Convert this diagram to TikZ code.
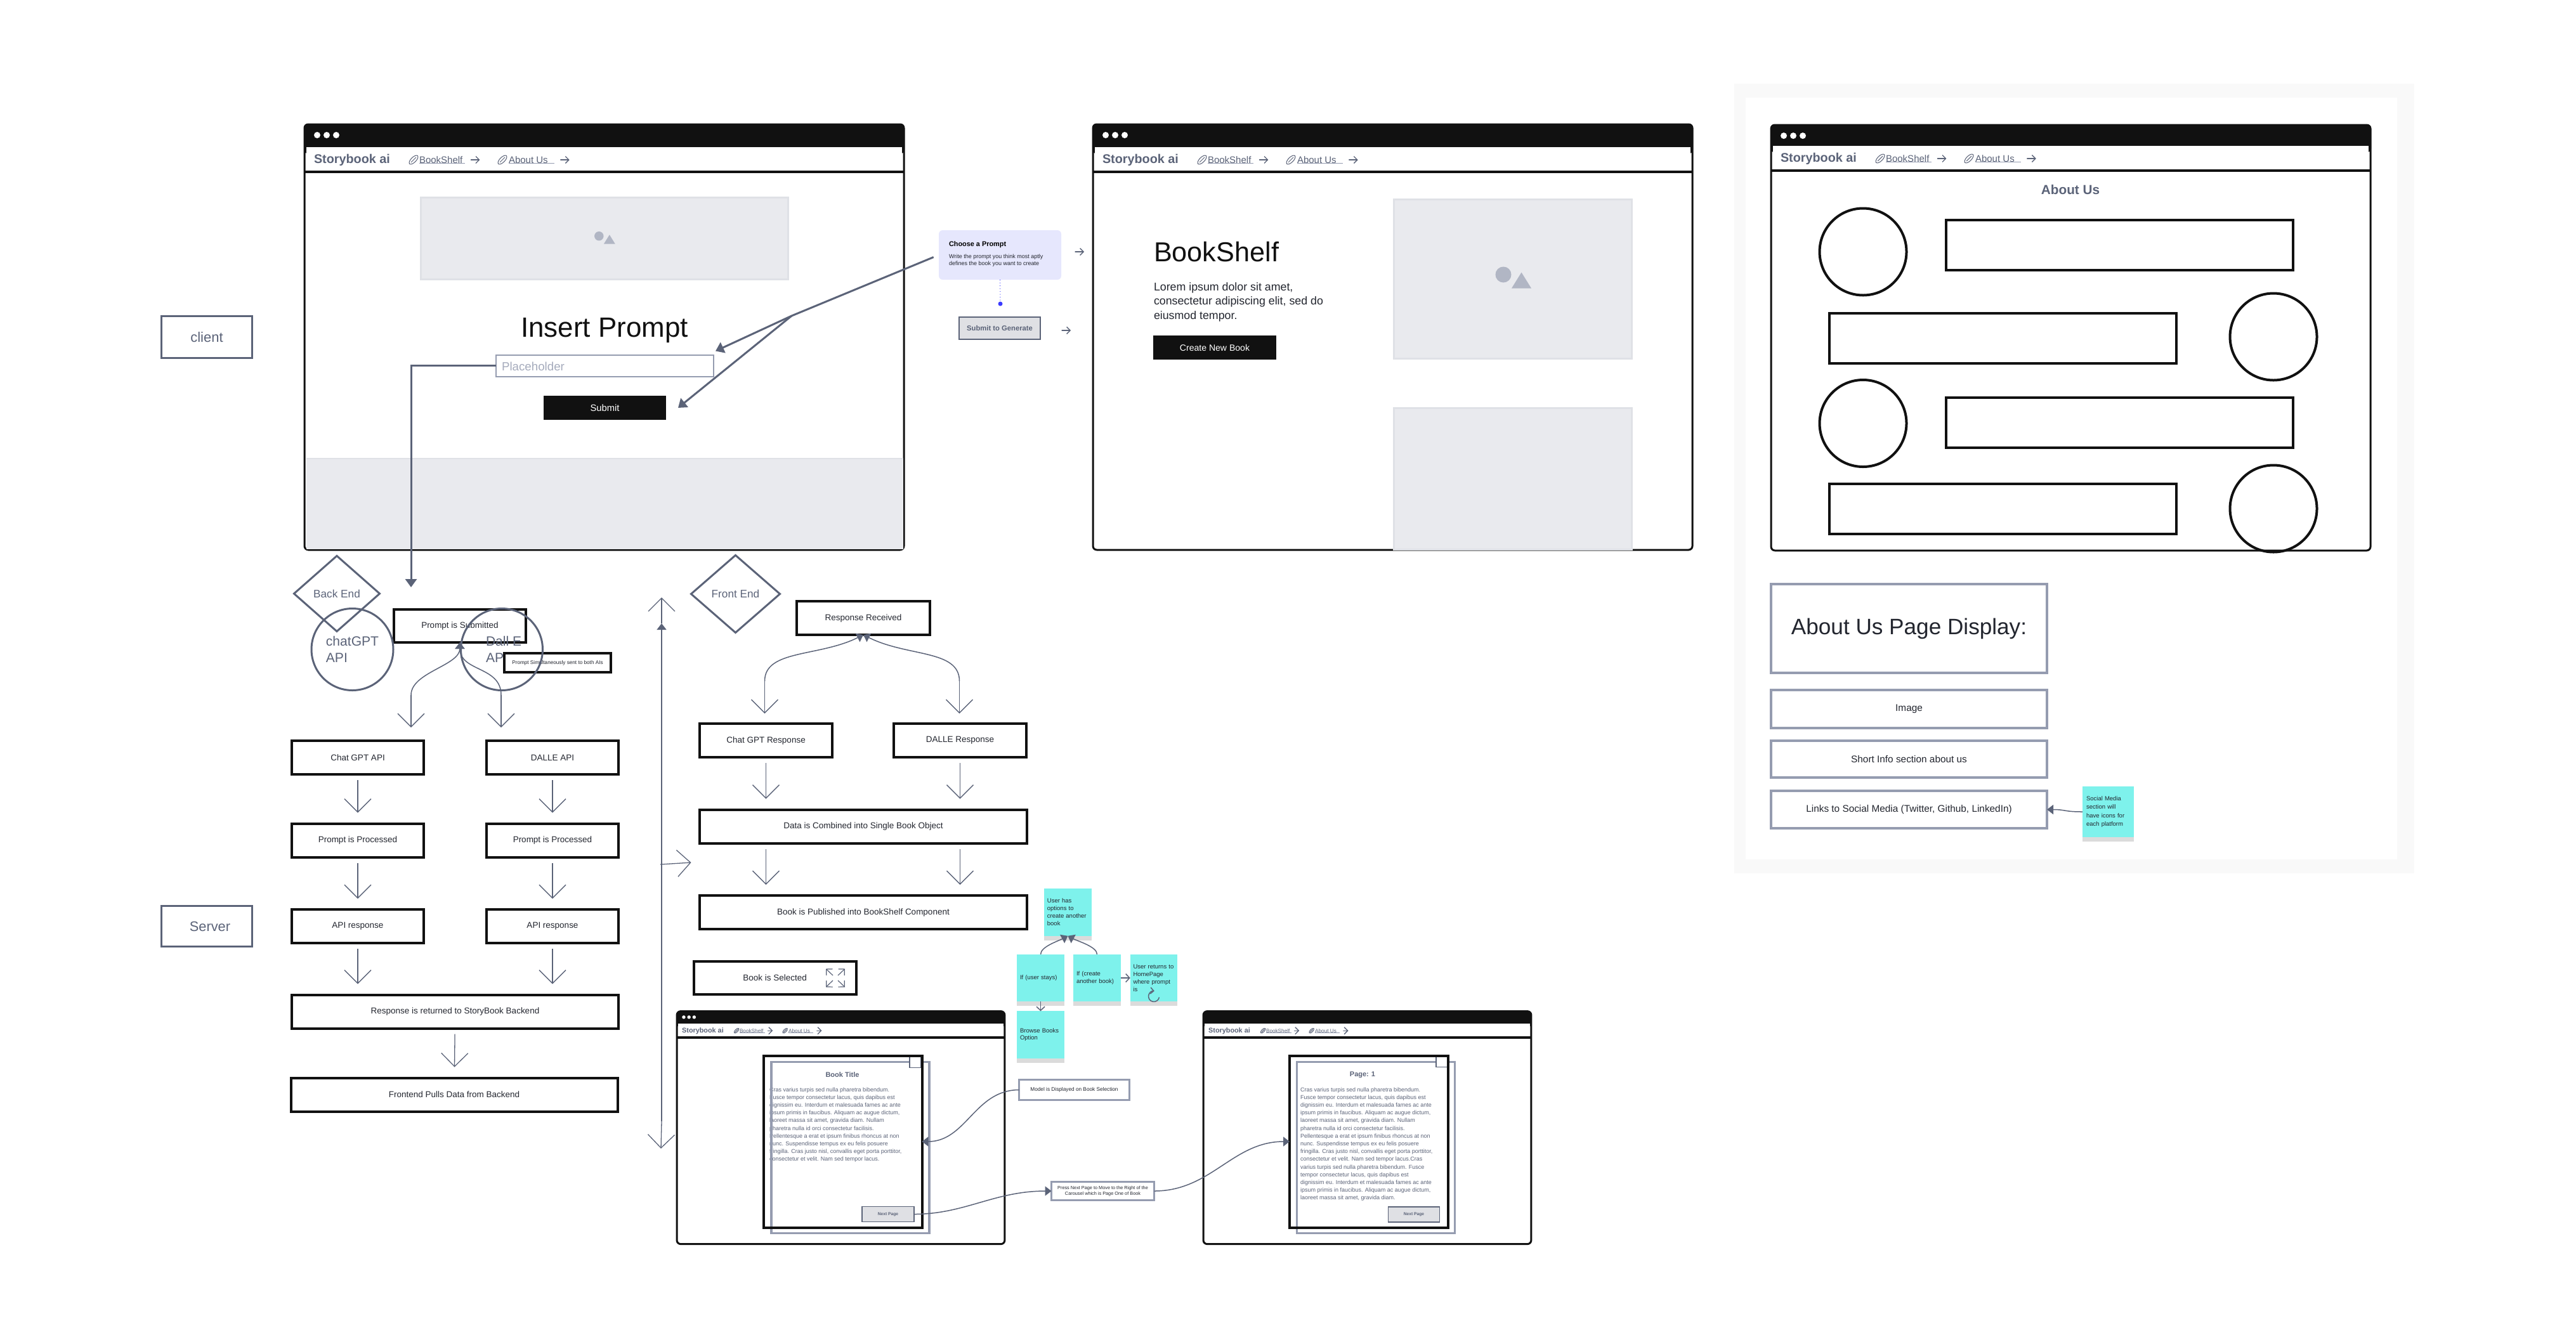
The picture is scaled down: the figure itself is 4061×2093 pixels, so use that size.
\documentclass[tikz,border=0pt]{standalone}
\usepackage{fontspec}
\setmainfont{Liberation Sans}
\usetikzlibrary{positioning}
\usetikzlibrary{arrows.meta, calc, shapes.geometric}
\usetikzlibrary{shadows}
\definecolor{slate}{HTML}{5B6378}
\definecolor{winblack}{HTML}{111111}
\definecolor{softblue}{HTML}{959CB0}
\definecolor{phfill}{HTML}{E9EAEE}
\definecolor{phline}{HTML}{DFE1E6}
\definecolor{iconfill}{HTML}{B1B6C4}
\definecolor{stickycyan}{HTML}{7EF2EC}
\definecolor{promptblue}{HTML}{E6E7FD}
\definecolor{dotblue}{HTML}{3B3BFF}
\definecolor{btngray}{HTML}{DFE0E4}
\definecolor{inktext}{HTML}{23262F}
\definecolor{framegray}{HTML}{F9F9F9}

\newcommand{\pxfont}[2]{\fontsize{#1}{#2}\selectfont}

% name, x, y, scale, title bar height
\newcommand{\browserwin}[5]{%
  \begin{scope}[shift={(#2,#3)},scale=#4,transform shape]
    \node (#1frame) [winframe] at (472.5,336.5) {};
    \node (#1bar) [winbar, minimum height=#5*0.1mm+1mm, anchor=north] at (472.5,0) {};
    \node (#1nav) [winnav, anchor=north] at (472.5,#5) {};
    \draw[winrule] (#1frame.west |- #1nav.south) -- (#1frame.east |- #1nav.south);
    \node (#1brand) [brandtext, anchor=west] at (15,#5+20) {Storybook ai};
    \draw[navline, rotate around={45:(172,#5+20)}] (172,#5+20) ellipse [x radius=9,y radius=4];
    \draw[navline] (168,#5+24) -- (176,#5+16);
    \node (#1shelf) [navtext, anchor=west] at (181,#5+20) {BookShelf};
    \draw[navrule] (#1shelf.south west) -- ([xshift=0.4mm]#1shelf.south east);
    \draw[glypharrow] ([xshift=1.3mm]#1shelf.east) -- ([xshift=2.7mm]#1shelf.east);
    \draw[navline, rotate around={45:(312,#5+20)}] (312,#5+20) ellipse [x radius=9,y radius=4];
    \draw[navline] (308,#5+24) -- (316,#5+16);
    \node (#1about) [navtext, anchor=west] at (322,#5+20) {About Us};
    \draw[navrule] (#1about.south west) -- ([xshift=1mm]#1about.south east);
    \draw[glypharrow] ([xshift=2mm]#1about.east) -- ([xshift=3.4mm]#1about.east);
  \end{scope}
}
\newcommand{\browserdots}[3]{%
  \begin{scope}[shift={(#1,#2)},scale=#3]
    \foreach \dotx in {20,35,50}
      \fill[white] (\dotx,18) circle [radius=5];
  \end{scope}
}
\newcommand{\shapeicon}[2]{%
  \begin{scope}[shift={(#1.center)},scale=#2]
    \fill[iconfill] (-15,-6.5) circle [radius=12.5];
    \fill[iconfill] (-2,15) -- (29,15) -- (13.5,-10) -- cycle;
  \end{scope}
}

\begin{document}
\begin{tikzpicture}
  [
    x=0.1mm, y=-0.1mm,
    every node/.style={inner sep=0pt, outer sep=0pt, font=\pxfont{3.84}{4.6}},
    align=center
  ]
    \tikzset{
        winframe/.style = {rectangle, rounded corners=0.6mm, draw=winblack, line width=0.3mm, fill=white,
                           minimum width=94.5mm, minimum height=67.1mm},
        winbar/.style = {rectangle, rounded corners=0.6mm, fill=winblack, minimum width=94.7mm},
        winnav/.style = {rectangle, fill=white, minimum width=93.9mm, minimum height=3.9mm},
        winrule/.style = {draw=winblack, line width=0.4mm},
        brandtext/.style = {font=\pxfont{5.63}{6.5}\bfseries, text=slate},
        navtext/.style = {font=\pxfont{4.27}{5}, text=slate},
        navline/.style = {draw=slate, line width=0.1mm},
        navrule/.style = {draw=softblue, line width=0.12mm},
        glypharrow/.style = {draw=slate, line width=0.13mm, line cap=round, -{Straight Barb[length=0.55mm,width=1.1mm]}},
        phbox/.style = {rectangle, fill=phfill, draw=phline, line width=0.3mm},
        flowbox/.style = {rectangle, draw=winblack, line width=0.4mm, minimum width=20.8mm, minimum height=5.3mm, text=inktext},
        grayborder/.style = {rectangle, draw=softblue, line width=0.35mm, fill=white, text=inktext},
        sidebox/.style = {rectangle, draw=slate, line width=0.35mm, text=slate, minimum width=14.3mm},
        diamondbox/.style = {diamond, draw=slate, line width=0.3mm, text=slate, font=\pxfont{4.9}{5.8}},
        apicircle/.style = {circle, draw=slate, line width=0.3mm, minimum size=12.9mm, text=slate, font=\pxfont{6}{7.5}},
        sticky/.style = {rectangle, fill=stickycyan, minimum width=7.45mm, minimum height=7.45mm,
                         text width=6.5mm, align=left, text=inktext, font=\pxfont{2.7}{3.4},
                         drop shadow={shadow xshift=0mm, shadow yshift=-0.7mm, opacity=0.14, fill=black}},
        blackbtn/.style = {rectangle, fill=winblack, text=white},
        graybtn/.style = {rectangle, fill=btngray, draw=slate, line width=0.18mm, text=slate},
        heavyline/.style = {draw=slate, line width=0.3mm},
        heavyarrow/.style = {heavyline, -{Triangle[length=1.3mm,width=1.8mm]}},
        openarrow/.style = {draw=slate, line width=0.13mm, -{Straight Barb[length=2.1mm,width=4.2mm]},
                            shorten <=0.9mm, shorten >=1.7mm},
        freearrow/.style = {draw=slate, line width=0.13mm, -{Straight Barb[length=2.1mm,width=4.2mm]}},
        curvearrow/.style = {draw=slate, line width=0.15mm, -{Triangle[length=1mm,width=1.5mm]}},
        bookpage/.style = {rectangle, draw=winblack, line width=0.4mm, minimum width=25mm, minimum height=27.1mm},
        bookback/.style = {rectangle, draw=softblue, line width=0.35mm, minimum width=24.9mm, minimum height=27mm},
        bookbody/.style = {anchor=north west, align=left, text=slate, font=\pxfont{2.56}{3.47}},
        booktitle/.style = {text=slate, font=\pxfont{3.13}{3.7}\bfseries},
        personbar/.style = {rectangle, draw=winblack, line width=0.4mm, minimum width=54.7mm, minimum height=7.9mm},
        personface/.style = {circle, draw=winblack, line width=0.4mm, minimum size=13.7mm},
    }
    \useasboundingbox (0,0) rectangle (4061,2093);

    \node (clientbox) [sidebox, minimum height=6.6mm, font=\pxfont{6.26}{7}] at (326,531.5) {client};
    \node (serverbox) [sidebox, minimum height=6.4mm, font=\pxfont{6.2}{7}] at (326,1460.5) {\hspace*{1mm}Server};

    % prompt page
    \browserwin{home}{480}{195}{1}{37}
    \browserdots{480}{195}{1}
    \fill[phfill] (483,723) rectangle (1424,866);
    \draw[phline, line width=0.2mm] (483,723) -- (1424,723);
    \node (homeimg) [phbox, minimum width=57.9mm, minimum height=12.9mm] at (953,376) {};
    \shapeicon{homeimg}{0.58}
    \node (inserttitle) [text=winblack, font=\pxfont{12.5}{14}] at (953,521) {Insert Prompt};
    \node (promptbox) [rectangle, draw=softblue, line width=0.2mm, fill=white, minimum width=34.3mm, minimum height=3.4mm] at (953.5,576.5) {};
    \node (promptph) [anchor=west, text=softblue!85, font=\pxfont{5.33}{6}] at (791,578) {Placeholder};
    \node (submitbtn) [blackbtn, minimum width=19.3mm, minimum height=3.8mm, font=\pxfont{4.2}{5}] at (953.5,643) {Submit};

    % bookshelf page
    \browserwin{shelf}{1723}{195}{1}{37}
    \browserdots{1723}{195}{1}
    \node (shelfimg) [phbox, minimum width=37.5mm, minimum height=25.1mm] at (2385,439.5) {};
    \shapeicon{shelfimg}{1}
    \node (shelfimgb) [phbox, minimum width=37.5mm, minimum height=22.3mm] at (2385,754.5) {};
    \node (shelftitle) [anchor=west, text=winblack, font=\pxfont{12.3}{14}] at (1819,397) {BookShelf};
    \node (shelftext) [anchor=north west, align=left, text=inktext, font=\pxfont{5.06}{6.4}] at (1819,445.5)
      {Lorem ipsum dolor sit amet,\\consectetur adipiscing elit, sed do\\eiusmod tempor.};
    \node (newbook) [blackbtn, minimum width=19.4mm, minimum height=3.8mm, font=\pxfont{4}{5}] at (1915,548) {Create New Book};

    % tooltip beside the two pages
    \node (choose) [rectangle, rounded corners=0.6mm, fill=promptblue, minimum width=19.3mm, minimum height=7.8mm] at (1576.5,402) {};
    \node (choosehead) [anchor=west, text=black, font=\pxfont{3.1}{3.7}\bfseries] at (1496,386) {Choose a Prompt};
    \node (choosetext) [anchor=north west, align=left, text=inktext, font=\pxfont{2.56}{3.13}] at (1496,400.5)
      {Write the prompt you think most aptly\\defines the book you want to create};
    \node (choosedot) [circle, fill=dotblue, minimum size=0.7mm] at (1577,479) {};
    \node (submitgen) [graybtn, minimum width=12.8mm, minimum height=3.5mm, font=\pxfont{3.2}{3.8}\bfseries] at (1576,517.5) {Submit to Generate};
    \draw[dotblue, densely dotted, line width=0.1mm] (choose.south) -- (choosedot);
    \draw[glypharrow] ([shift={(2.2mm,0.5mm)}]choose.east) -- ([shift={(3.6mm,0.5mm)}]choose.east);
    \draw[glypharrow] ([shift={(3.4mm,-0.35mm)}]submitgen.east) -- ([shift={(4.8mm,-0.35mm)}]submitgen.east);

    \coordinate (promptsplit) at (1248,498);
    \coordinate (promptdrop) at (648,926);
    \draw[heavyline, shorten <=0.9mm] (choose.west) -- (promptsplit);
    \draw[heavyarrow] (promptsplit) -- ([shift={(0.3mm,0.6mm)}]promptbox.north east);
    \draw[heavyarrow] (promptsplit) -- ([xshift=1.9mm]submitbtn.east);
    \draw[heavyarrow] (promptbox.west) -- (promptdrop |- promptbox.west) -- (promptdrop);

    % back end
    \node (backend) [diamondbox, minimum width=13.5mm, minimum height=11.9mm] at (531,936) {Back End};
    \node (submitted) [flowbox, minimum width=20.8mm, minimum height=5.2mm] at (725,987) {Prompt is Submitted};
    \node (chatgpt) [apicircle, align=left] at (555.5,1024) {chatGPT\\API};
    \node (dalletext) [anchor=west, align=left, text=slate, font=\pxfont{6}{7.5}] at (766,1024) {Dall E\\API};
    \node (bothais) [flowbox, fill=white, minimum width=16.8mm, minimum height=3.0mm, font=\pxfont{2.33}{3}] at (879,1045) {Prompt Simultaneously sent to both AIs};
    \node (dalleapic) [apicircle] at (791,1024) {};

    \node (chatapi) [flowbox] at (564,1194.5) {Chat GPT API};
    \node (dalleapi) [flowbox, right=9.9mm of chatapi] {DALLE API};
    \node (chatproc) [flowbox, below=7.75mm of chatapi] {Prompt is Processed};
    \node (dalleproc) [flowbox, below=7.75mm of dalleapi] {Prompt is Processed};
    \node (chatans) [flowbox, below=8.25mm of chatproc] {API response};
    \node (dalleans) [flowbox, below=8.25mm of dalleproc] {API response};
    \node (backans) [flowbox, minimum width=51.5mm] at (717.5,1595) {Response is returned to StoryBook Backend};
    \node (frontpull) [flowbox, minimum width=51.5mm] at (716,1726) {Frontend Pulls Data from Backend};

    \coordinate (chatin) at (648,1096);
    \coordinate (dallein) at (790,1096);
    \draw[curvearrow] (chatin) .. controls +(0,-36) and +(0,36.5) .. (submitted.south);
    \draw[curvearrow] (dallein) .. controls +(0,-46) and +(0,46.5) .. (submitted.south);
    \draw[freearrow, shorten >=2.1mm] (chatin) -- (chatin |- chatapi.north);
    \draw[freearrow, shorten >=2.1mm] (dallein) -- (dallein |- dalleapi.north);
    \foreach \fromnode/\tonode in {chatapi/chatproc, dalleapi/dalleproc, chatproc/chatans, dalleproc/dalleans}
      \draw[openarrow] (\fromnode) -- (\tonode);
    \draw[openarrow] (chatans.south) -- (chatans.south |- backans.north);
    \draw[openarrow] (dalleans.south) -- (dalleans.south |- backans.north);
    \draw[openarrow] (backans) -- (frontpull);

    % long line between the two columns
    \coordinate (railtop) at (1043,983);
    \coordinate (railtopend) at (1043,942);
    \coordinate (railbottom) at (1043,1768);
    \coordinate (railbottomend) at (1042,1811);
    \coordinate (railbranch) at (1041,1363);
    \coordinate (railbranchend) at (1089.5,1360);
    \draw[curvearrow] (railbottom) -- (railtop);
    \draw[freearrow] (railtop) -- (railtopend);
    \draw[freearrow] (railbottom) -- (railbottomend);
    \draw[freearrow] (railbranch) -- (railbranchend);

    % front end
    \node (frontend) [diamondbox, minimum width=14mm, minimum height=12.2mm] at (1159.5,936.5) {Front End};
    \node (received) [flowbox, minimum width=21mm] at (1361,974.5) {Response Received};
    \node (chatresp) [flowbox, minimum width=20.9mm] at (1207.5,1167.5) {Chat GPT Response};
    \node (dalleresp) [flowbox, minimum width=20.9mm, right=9.7mm of chatresp] {DALLE Response};
    \node (combined) [flowbox, minimum width=51.6mm] at (1361,1303) {Data is Combined into Single Book Object};
    \node (published) [flowbox, minimum width=51.6mm] at (1361,1438.5) {Book is Published into BookShelf Component};
    \node (selected) [flowbox, minimum width=25.6mm, minimum height=5.2mm] at (1221.7,1542) {Book is Selected};

    \coordinate (chatrespin) at (1205.5,1074);
    \coordinate (dallerespin) at (1512.5,1074);
    \draw[curvearrow] (chatrespin) .. controls +(0,-50) and +(-70,35) .. (received.south);
    \draw[curvearrow] (dallerespin) .. controls +(0,-50) and +(70,35) .. (received.south);
    \draw[freearrow, shorten >=1.6mm] (chatrespin) -- (chatrespin |- chatresp.north);
    \draw[freearrow, shorten >=1.6mm] (dallerespin) -- (dallerespin |- dalleresp.north);
    \foreach \respnode in {chatresp, dalleresp} {
      \draw[openarrow] (\respnode.south) -- (\respnode.south |- combined.north);
      \draw[openarrow] (\respnode.south |- combined.south) -- (\respnode.south |- published.north);
    }
    \coordinate (expandicon) at (1317,1542);
    \foreach \signx/\signy in {-1/-1, 1/-1, -1/1, 1/1}
      \draw[draw=slate, line width=0.12mm, -{Straight Barb[length=0.7mm,width=1.4mm]}]
        ($(expandicon)+(\signx*4,\signy*4)$) -- ($(expandicon)+(\signx*15,\signy*14.5)$);

    % sticky notes
    \node (optionsnote) [sticky] at (1683.4,1438.5) {User has\\options to\\create another\\book};
    \node (staysnote) [sticky] at (1640.5,1542) {If (user stays)};
    \node (createnote) [sticky] at (1729.5,1542) {If (create\\another book)};
    \node (returnnote) [sticky] at (1819,1542) {User returns to\\HomePage\\where prompt\\is};
    \node (browsenote) [sticky] at (1640.5,1631.5) {Browse Books\\Option};
    \draw[curvearrow] (staysnote.north) .. controls +(0,-12) and +(-15,8) .. (optionsnote.south);
    \draw[curvearrow] (createnote.north) .. controls +(0,-12) and +(15,8) .. (optionsnote.south);
    \draw[draw=slate, line width=0.15mm, -{Straight Barb[length=0.6mm,width=1.3mm]}] (createnote) -- (returnnote.west);
    \draw[draw=slate, line width=0.15mm, -{Straight Barb[length=0.6mm,width=1.3mm]}] (staysnote) -- (browsenote.north);
    \draw[draw=slate, line width=0.15mm, -{Straight Barb[length=0.5mm,width=1mm]}] (1827.4,1572.5) arc [start angle=10, end angle=275, radius=8.5];

    % book pages
    \browserwin{bookw}{1067}{1594}{0.547}{37}
    \browserdots{1067}{1594}{0.547}
    \node (booktext) [bookbody] at (1213,1714.5)
      {Cras varius turpis sed nulla pharetra bibendum.\\Fusce tempor consectetur lacus, quis dapibus est\\dignissim eu. Interdum et malesuada fames ac ante\\ipsum primis in faucibus. Aliquam ac augue dictum,\\laoreet massa sit amet, gravida diam. Nullam\\pharetra nulla id orci consectetur facilisis.\\Pellentesque a erat et ipsum finibus rhoncus at non\\nunc. Suspendisse tempus ex eu felis posuere\\fringilla. Cras justo nisl, convallis eget porta porttitor,\\consectetur et velit. Nam sed tempor lacus.};
    \node (bookhead) [booktitle] at (1328,1695) {Book Title};
    \node (bookback) [bookback] at (1340.5,1809.5) {};
    \node (bookclose) [rectangle, draw=slate, fill=white, line width=0.12mm, minimum width=1.8mm, minimum height=1.7mm] at (1443,1675) {};
    \node (bookfront) [bookpage] at (1328.5,1800) {};
    \node (booknext) [graybtn, minimum width=8.2mm, minimum height=2.4mm, font=\pxfont{1.9}{2.4}\bfseries] at (1400,1914.5) {Next Page};

    \browserwin{pagew}{1897}{1594}{0.547}{37}
    \node (pagetext) [bookbody] at (2050,1714.5)
      {Cras varius turpis sed nulla pharetra bibendum.\\Fusce tempor consectetur lacus, quis dapibus est\\dignissim eu. Interdum et malesuada fames ac ante\\ipsum primis in faucibus. Aliquam ac augue dictum,\\laoreet massa sit amet, gravida diam. Nullam\\pharetra nulla id orci consectetur facilisis.\\Pellentesque a erat et ipsum finibus rhoncus at non\\nunc. Suspendisse tempus ex eu felis posuere\\fringilla. Cras justo nisl, convallis eget porta porttitor,\\consectetur et velit. Nam sed tempor lacus.Cras\\varius turpis sed nulla pharetra bibendum. Fusce\\tempor consectetur lacus, quis dapibus est\\dignissim eu. Interdum et malesuada fames ac ante\\ipsum primis in faucibus. Aliquam ac augue dictum,\\laoreet massa sit amet, gravida diam.};
    \node (pagehead) [booktitle] at (2148,1695) {Page: 1};
    \node (pageback) [bookback] at (2169,1809.5) {};
    \node (pageclose) [rectangle, draw=slate, fill=white, line width=0.12mm, minimum width=1.8mm, minimum height=1.7mm] at (2273,1674) {};
    \node (pagefront) [bookpage] at (2158,1800) {};
    \node (pagenext) [graybtn, minimum width=8.1mm, minimum height=2.4mm, font=\pxfont{1.9}{2.4}\bfseries] at (2229,1915) {Next Page};

    \node (modelnote) [grayborder, minimum width=17.4mm, minimum height=3.2mm, font=\pxfont{2.35}{3}] at (1693.5,1718.5) {Model is Displayed on Book Selection};
    \node (pressnote) [grayborder, minimum width=16.2mm, minimum height=2.9mm, font=\pxfont{2.08}{2.75}] at (1738.5,1878) {Press Next Page to Move to the Right of the\\Carousel which is Page One of Book};
    \draw[curvearrow] (modelnote.west) .. controls +(-70,0) and +(70,0) .. (bookfront.east);
    \draw[curvearrow] (booknext.east) .. controls +(80,0) and +(-90,0) .. (pressnote.west);
    \draw[curvearrow] (pressnote.east) .. controls +(90,0) and +(-90,0) .. (pagefront.west);

    % about page
    \fill[framegray] (2734,132) rectangle (3806,1377);
    \fill[white] (2752,154) rectangle (3779,1355);
    \browserwin{aboutw}{2792}{196}{1}{34}
    \browserdots{2792}{196}{1}
    \node (abouthead) [text=slate, font=\pxfont{5.9}{7}\bfseries] at (3264,299) {About Us};
    \foreach \rowid/\facex/\facey/\barx/\bary in {a/2937/397/3341.5/386.5, b/3584/531/3157.5/533, c/2937/667.5/3341.5/666.5, d/3584/802/3157.5/802} {
      \node (aboutface\rowid) [personface] at (\facex,\facey) {};
      \node (aboutbar\rowid) [personbar] at (\barx,\bary) {};
    }
    \node (aboutdisplay) [grayborder, minimum width=43.5mm, minimum height=14mm, font=\pxfont{10}{12}] at (3009.5,991) {About Us Page Display:};
    \node (aboutimage) [grayborder, minimum width=43.5mm, minimum height=6mm, font=\pxfont{4.37}{5}, below=2.7mm of aboutdisplay] {Image};
    \node (aboutshort) [grayborder, minimum width=43.5mm, minimum height=5.8mm, font=\pxfont{4.37}{5}, below=2mm of aboutimage] {Short Info section about us};
    \node (aboutlinks) [grayborder, minimum width=43.5mm, minimum height=5.9mm, font=\pxfont{4.37}{5}, below=2.1mm of aboutshort] {Links to Social Media (Twitter, Github, LinkedIn)};
    \node (socialnote) [sticky, minimum width=8.1mm, minimum height=8mm, text width=6.9mm, font=\pxfont{2.7}{3.78}] at (3323.5,1280) {Social Media\\section will\\have icons for\\each platform};
    \draw[curvearrow] (socialnote.west) .. controls +(-30,0) and +(30,0) .. (aboutlinks.east);
\end{tikzpicture}
\end{document}
